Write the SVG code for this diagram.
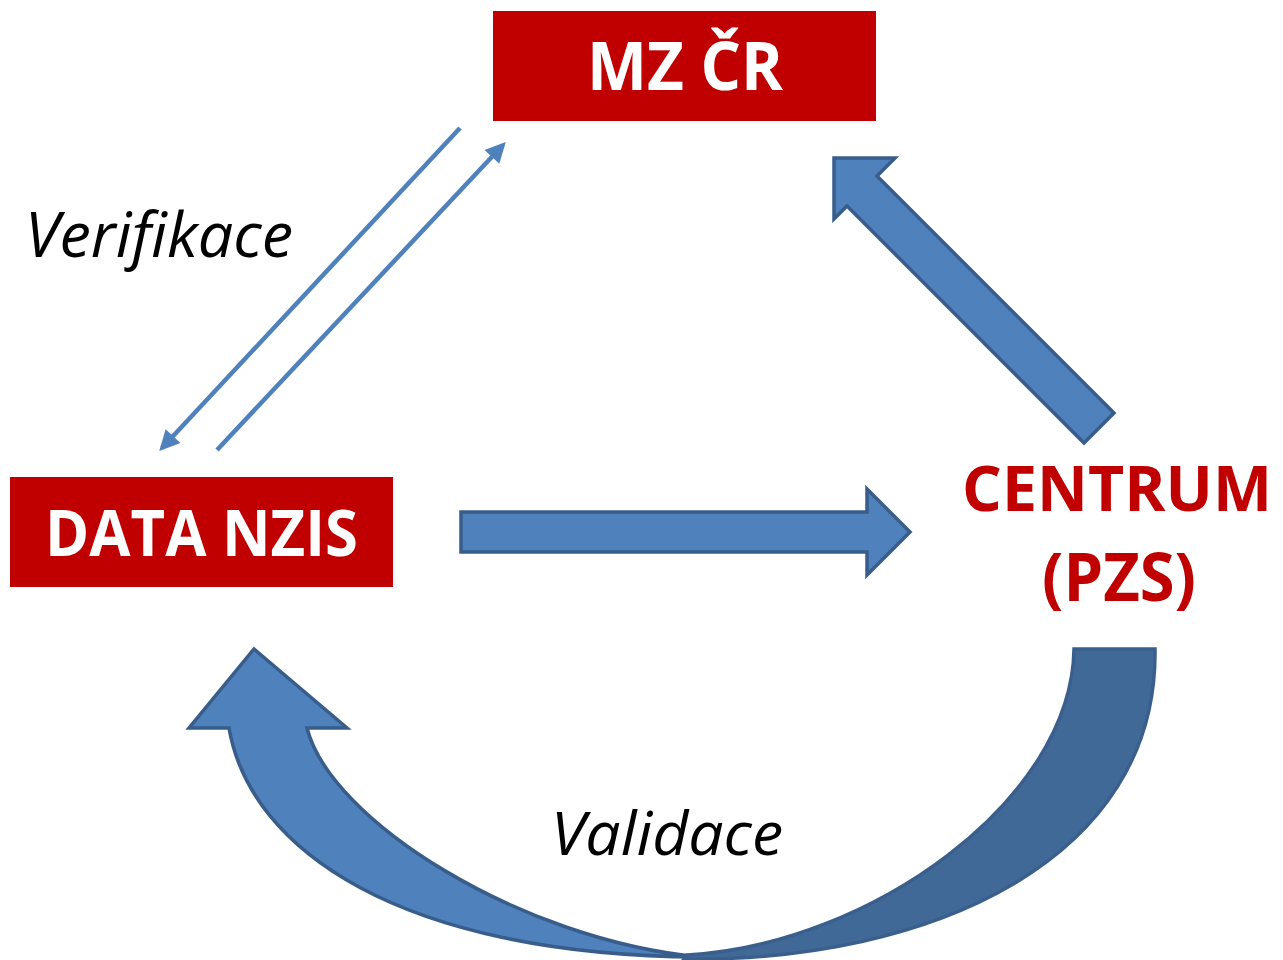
<svg xmlns="http://www.w3.org/2000/svg" width="1283" height="960" viewBox="0 0 1283 960">
<style>
.box{fill:#C00000}
.wt{font-family:"Open Sans","Noto Sans",sans-serif;font-weight:bold;fill:#FFFFFF}
.rt{font-family:"Open Sans","Noto Sans",sans-serif;font-weight:bold;fill:#C00000}
.it{font-family:"Open Sans","Noto Sans",sans-serif;font-style:italic;fill:#000000}
.blk{fill:#4F81BD;stroke:#385D8A;stroke-width:3.5;stroke-linejoin:miter}
.dark{fill:#416998;stroke:#3A5F8C;stroke-width:3.5}
.thin{stroke:#4F81BD;stroke-width:4.5;fill:none}
</style>
<defs>
<marker id="ah" viewBox="0 0 10 10" refX="8" refY="5" markerWidth="5" markerHeight="4.5" orient="auto" markerUnits="strokeWidth">
<path d="M0,0 L10,5 L0,10 Z" fill="#4F81BD"/>
</marker>
</defs>
<rect width="1283" height="960" fill="#FFFFFF"/>
<g id="connectors">
<line class="thin" x1="460" y1="128" x2="162" y2="448" marker-end="url(#ah)"/>
<line class="thin" x1="217" y1="450" x2="503" y2="145" marker-end="url(#ah)"/>
<path id="arrow-right" class="blk" d="M461,512 L867,512 L867,489 L910,532 L867,575 L867,552 L461,552 Z"/>
<path id="arrow-diag" class="blk" d="M834,158 L895,158 L877,176 L1114,413 L1084,443 L847,206 L834,219 Z"/>
<g id="arrow-curved">
<path class="blk" d="M254,649 L347,728 L307,728 C330,820 520,940 700,957 C400,955 250,850 229,728 L189,728 Z"/>
<path class="dark" d="M1074,649 L1155,649 C1158,860 930,962 684,959 L687,955 C870,945 1072,800 1074,649 Z"/>
</g>
</g>
<g id="node-mz">
<rect class="box" x="493" y="11" width="383" height="110"/>
<text class="wt" x="587" y="90" font-size="66" textLength="196" lengthAdjust="spacingAndGlyphs">MZ ČR</text>
</g>
<g id="node-data">
<rect class="box" x="10" y="477" width="383" height="110"/>
<text class="wt" x="45" y="556" font-size="65" textLength="313" lengthAdjust="spacingAndGlyphs">DATA NZIS</text>
</g>
<g id="node-centrum">
<text class="rt" x="962" y="511" font-size="63" textLength="310" lengthAdjust="spacingAndGlyphs">CENTRUM</text>
<text class="rt" x="1042" y="601" font-size="66" textLength="154" lengthAdjust="spacingAndGlyphs">(PZS)</text>
</g>
<g id="label-verifikace">
<text class="it" x="25" y="257" font-size="62" textLength="268" lengthAdjust="spacingAndGlyphs">Verifikace</text>
</g>
<g id="label-validace">
<text class="it" x="551" y="855" font-size="61" textLength="232" lengthAdjust="spacingAndGlyphs">Validace</text>
</g>
</svg>
